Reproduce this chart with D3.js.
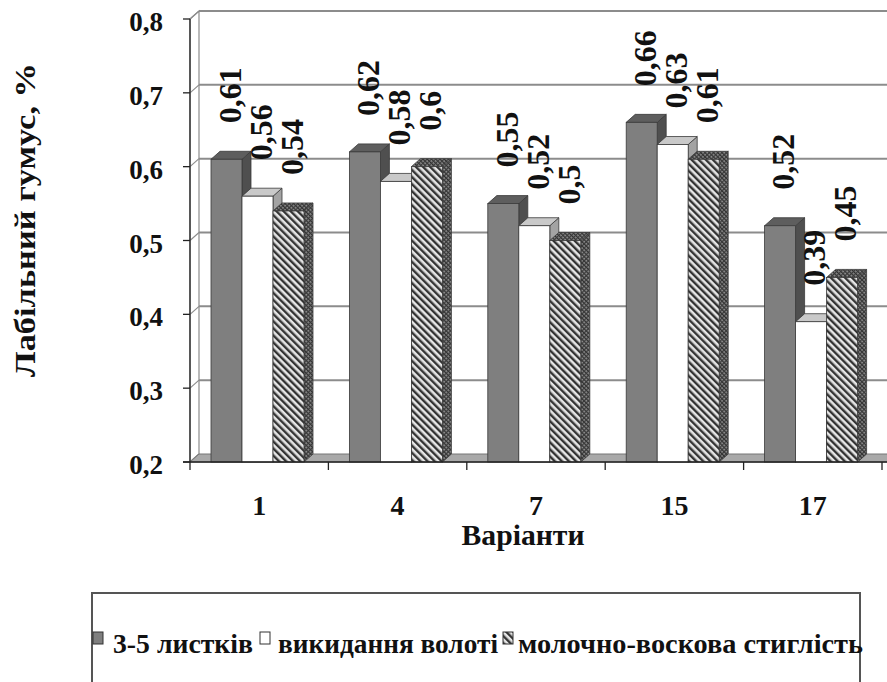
<!DOCTYPE html>
<html>
<head>
<meta charset="utf-8">
<script src="https://cdn.jsdelivr.net/npm/d3@7"></script>
<style>
  html, body { margin: 0; padding: 0; background: #fff; }
  svg { display: block; }
</style>
</head>
<body>
<svg id="chart" width="887" height="682"></svg>
<script>
// Варіанти досліду та вміст лабільного гумусу за фазами розвитку
const categories = ["1", "4", "7", "15", "17"];
const seriesNames = ["3-5 листків", "викидання волоті", "молочно-воскова стиглість"];
const leaves35 = [0.61, 0.62, 0.55, 0.66, 0.52];
const panicle = [0.56, 0.58, 0.52, 0.63, 0.39];
const milkWax = [0.54, 0.60, 0.50, 0.61, 0.45];
const yTicks = [0.2, 0.3, 0.4, 0.5, 0.6, 0.7, 0.8];
const yTitle = "Лабільний гумус, %";
const xTitle = "Варіанти";

const seriesValues = [leaves35, panicle, milkWax];

const FONT = "'Liberation Serif', Tinos, 'Times New Roman', Times, serif";

const svg = d3.select("#chart")
  .attr("font-family", FONT)
  .attr("font-weight", "bold")
  .style("font-family", FONT);
const W = 887, H = 682;

// front plane of the 3-D box and its depth offset
const pLeft = 190, pRight = 882, pTop = 19, pBottom = 462;
const dx = 9, dy = -8;

const uk = d3.formatLocale({ decimal: ",", thousands: " ", grouping: [3], currency: ["", ""] });
const fmtTick = uk.format(".1f");
const fmtVal = uk.format(".2~f");

const y = d3.scaleLinear().domain([0.2, 0.8]).range([pBottom, pTop]);
const x0 = d3.scaleBand().domain(categories).range([pLeft, pRight]).padding(0);
const x1 = d3.scaleBand().domain(d3.range(seriesNames.length)).range([21, 21 + 93]).padding(0);

// patterns
const defs = svg.append("defs");
const hatch = defs.append("pattern")
  .attr("id", "hatch").attr("patternUnits", "userSpaceOnUse")
  .attr("width", 5).attr("height", 5)
  .attr("patternTransform", "rotate(-45)");
hatch.append("rect").attr("width", 5).attr("height", 5).attr("fill", "#e6e6e6");
hatch.append("rect").attr("width", 2.4).attr("height", 5).attr("fill", "#333");

const hatchDark = defs.append("pattern")
  .attr("id", "hatchDark").attr("patternUnits", "userSpaceOnUse")
  .attr("width", 3).attr("height", 3)
  .attr("patternTransform", "rotate(-45)");
hatchDark.append("rect").attr("width", 3).attr("height", 3).attr("fill", "#8a8a8a");
hatchDark.append("rect").attr("width", 1.3).attr("height", 3).attr("fill", "#2e2e2e");
hatchDark.append("rect").attr("width", 3).attr("height", 1).attr("fill", "#3a3a3a");

const styles = [
  { front: "#7f7f7f", topF: "#5e5e5e", side: "#4f4f4f" },
  { front: "#ffffff", topF: "#c9c9c9", side: "#a3a3a3" },
  { front: "url(#hatch)", topF: "url(#hatchDark)", side: "url(#hatchDark)" }
];

const gridColor = "#8c8c8c";

// back wall gridlines
const g = svg.append("g");
g.selectAll("line.grid").data(yTicks.slice(1)).join("line")
  .attr("class", "grid")
  .attr("x1", pLeft + dx).attr("x2", W)
  .attr("y1", d => y(d) + dy).attr("y2", d => y(d) + dy)
  .attr("stroke", gridColor).attr("stroke-width", 2);

// left wall
g.append("polygon")
  .attr("points", [[pLeft, y(0.8)], [pLeft + dx, y(0.8) + dy], [pLeft + dx, y(0.2) + dy], [pLeft, y(0.2)]].join(" "))
  .attr("fill", "#fff").attr("stroke", gridColor).attr("stroke-width", 1.2);
g.selectAll("line.wallTick").data(yTicks).join("line")
  .attr("class", "wallTick")
  .attr("x1", pLeft).attr("x2", pLeft + dx)
  .attr("y1", d => y(d)).attr("y2", d => y(d) + dy)
  .attr("stroke", gridColor).attr("stroke-width", 1.2);

// floor
g.append("polygon")
  .attr("points", [[pLeft, pBottom], [pLeft + dx, pBottom + dy], [W + 5, pBottom + dy], [W + 5, pBottom]].join(" "))
  .attr("fill", "#a9a9a9").attr("stroke", "#777").attr("stroke-width", 1);

// bars
const bars = svg.append("g");
categories.forEach((c, ci) => {
  seriesValues.forEach((vals, si) => {
    const v = vals[ci];
    const xa = x0(c) + x1(si);
    const bw = x1.bandwidth();
    const yt = y(v);
    const st = styles[si];
    const bg = bars.append("g");
    // side face
    bg.append("polygon")
      .attr("points", [[xa + bw, yt], [xa + bw + dx, yt + dy], [xa + bw + dx, pBottom + dy], [xa + bw, pBottom]].join(" "))
      .attr("fill", st.side).attr("stroke", "#3a3a3a").attr("stroke-width", 0.8);
    // top face
    bg.append("polygon")
      .attr("points", [[xa, yt], [xa + dx, yt + dy], [xa + bw + dx, yt + dy], [xa + bw, yt]].join(" "))
      .attr("fill", st.topF).attr("stroke", "#3a3a3a").attr("stroke-width", 0.8);
    // front face
    bg.append("rect")
      .attr("x", xa).attr("y", yt).attr("width", bw).attr("height", pBottom - yt)
      .attr("fill", st.front).attr("stroke", "#3a3a3a").attr("stroke-width", 0.8);
  });
});

// axes
const axes = svg.append("g");
axes.append("line")
  .attr("x1", pLeft).attr("x2", pLeft).attr("y1", y(0.8)).attr("y2", pBottom)
  .attr("stroke", "#222").attr("stroke-width", 1.3);
axes.selectAll("line.yt").data(yTicks).join("line")
  .attr("class", "yt")
  .attr("x1", pLeft - 7).attr("x2", pLeft).attr("y1", d => y(d)).attr("y2", d => y(d))
  .attr("stroke", "#222").attr("stroke-width", 1.3);
axes.append("line")
  .attr("x1", pLeft - 7).attr("x2", W).attr("y1", pBottom).attr("y2", pBottom)
  .attr("stroke", "#222").attr("stroke-width", 1.3);
const bounds = categories.map(c => x0(c)).concat([x0(categories[categories.length - 1]) + x0.bandwidth()]);
axes.selectAll("line.xt").data(bounds).join("line")
  .attr("class", "xt")
  .attr("x1", d => d).attr("x2", d => d).attr("y1", pBottom).attr("y2", pBottom + 8)
  .attr("stroke", "#222").attr("stroke-width", 1.3);

// tick labels
axes.selectAll("text.ytl").data(yTicks).join("text")
  .attr("class", "ytl")
  .attr("x", 163).attr("y", d => y(d) + 12)
  .attr("text-anchor", "end").attr("font-size", 27).attr("fill", "#111")
  .text(d => fmtTick(d));
axes.selectAll("text.xtl").data(categories).join("text")
  .attr("class", "xtl")
  .attr("x", d => x0(d) + x0.bandwidth() / 2)
  .attr("y", 515)
  .attr("text-anchor", "middle").attr("font-size", 28).attr("fill", "#111")
  .text(d => d);

// axis titles
svg.append("text")
  .attr("transform", "translate(35,220) rotate(-90)")
  .attr("text-anchor", "middle").attr("font-size", 30).attr("fill", "#111")
  .attr("textLength", 314).attr("lengthAdjust", "spacingAndGlyphs")
  .text(yTitle);
svg.append("text")
  .attr("x", 523).attr("y", 545)
  .attr("text-anchor", "middle").attr("font-size", 30).attr("fill", "#111")
  .attr("textLength", 123).attr("lengthAdjust", "spacingAndGlyphs")
  .text(xTitle);

// value labels above bars
const lbl = svg.append("g");
categories.forEach((c, ci) => {
  seriesValues.forEach((vals, si) => {
    const v = vals[ci];
    const cx = x0(c) + x1(si) + x1.bandwidth() / 2 + 3;
    const yStart = y(v) - 36;
    lbl.append("text")
      .attr("transform", `translate(${cx},${yStart}) rotate(-90)`)
      .attr("dy", "0.35em")
      .attr("font-size", 32).attr("fill", "#111")
      .text(fmtVal(v));
  });
});

// legend
const lg = svg.append("g");
lg.append("rect")
  .attr("x", 92).attr("y", 593).attr("width", 768).attr("height", 110)
  .attr("fill", "none").attr("stroke", "#555").attr("stroke-width", 2);
const legendItems = [
  { icon: 93, text: 113, len: 140 },
  { icon: 260, text: 278, len: 220 },
  { icon: 503, text: 518, len: 345 }
];
seriesNames.forEach((name, i) => {
  const it = legendItems[i];
  lg.append("rect")
    .attr("x", it.icon).attr("y", 632).attr("width", 10).attr("height", 12)
    .attr("fill", styles[i].front).attr("stroke", "#333").attr("stroke-width", 1);
  lg.append("text")
    .attr("x", it.text).attr("y", 653)
    .attr("font-size", 27).attr("fill", "#111")
    .attr("textLength", it.len).attr("lengthAdjust", "spacingAndGlyphs")
    .text(name);
});
</script>
</body>
</html>
